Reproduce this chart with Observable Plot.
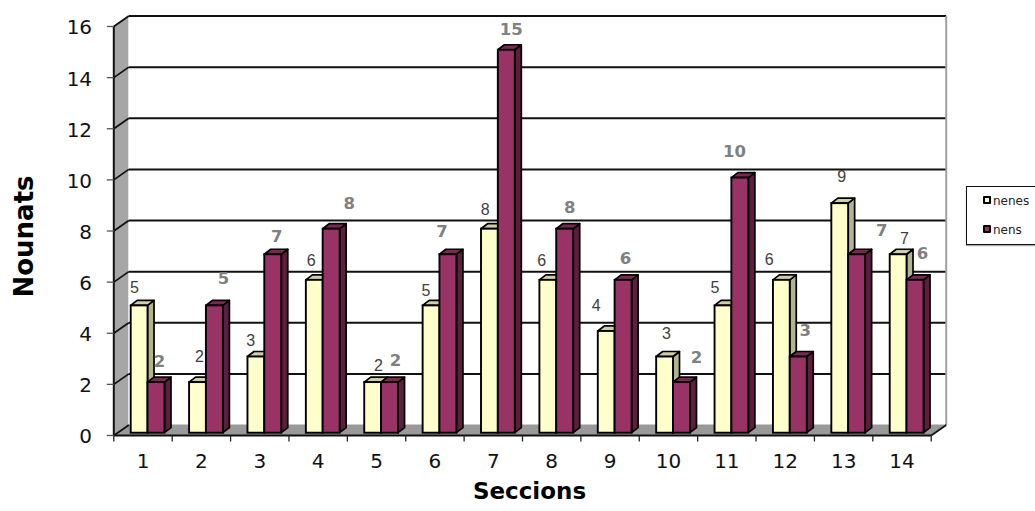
<!DOCTYPE html>
<html><head><meta charset="utf-8">
<script src="https://cdn.jsdelivr.net/npm/d3@7"></script>
<script src="https://cdn.jsdelivr.net/npm/@observablehq/plot@0.6"></script>
<style>
html,body{margin:0;padding:0;background:#fff;}
#wrap{position:relative;width:1035px;height:511px;overflow:hidden;}
#legend{position:absolute;left:966px;top:186px;width:80px;height:57px;border:1px solid #111;box-shadow:0 1px 1px #aaa;background:#fff;font:12px "DejaVu Sans",sans-serif;color:#222;}
#legend div{position:absolute;left:16px;white-space:nowrap;line-height:14px;}
#legend i{display:inline-block;width:4px;height:4px;border:2px solid #000;border-radius:1px;margin-right:2px;vertical-align:1px;}
</style></head><body><div id="wrap"></div>
<script>
const categories = [1,2,3,4,5,6,7,8,9,10,11,12,13,14];
const nenes = [5,2,3,6,2,5,8,6,4,3,5,6,9,7];
const nens  = [2,5,7,8,2,7,15,8,6,2,10,3,7,6];
const yTicks = [0,2,4,6,8,10,12,14,16];

// label nudges in pixels, from category centre / value height
const nenesNudgeX = [-8.5,-2,-9,-7,2,-9,-8,-10,-14,-2,-12,-16,-2,2.5];
const nenesNudgeY = [-20,-28,-18,-21,-19,-17,-21,-21,-27,-25,-20,-22,-29,-18];
const nensNudgeX  = [16.5,22,17,31,19,7,18,18,15.4,28,7.6,20,38,20.5];
const nensNudgeY  = [-23,-29,-20,-27.5,-24,-25,-22.6,-23.5,-23.6,-27,-28,-28,-26,-28.6];

const W=1035,H=511,L=113.3,R=930.7,T=26,B=435;
const pxX=(R-L)/14, pxY=(B-T)/16;
const wallX=15/pxX, wallY=10.5/pxY;       // depth of the chart box, in data units
const barX=6.5/pxX, barY=5/pxY;           // depth of a bar
const xMin=.5,xMax=14.5,yMax=16;
const base=.09, lift=.07;
const yellow={front:"#ffffcc",top:"#cfcfa6",side:"#b3b38f"};
const purple={front:"#993366",top:"#7a2952",side:"#5c1f3d"};

const sideFaces=(vals,a,b)=>vals.flatMap((v,i)=>{const c=categories[i];return [
 {k:i,x1:c+b,y1:base,x2:c+b+barX,y2:base+barY},
 {k:i,x1:c+b,y1:v+lift,x2:c+b+barX,y2:v+lift+barY}];});
const topFaces=(vals,a,b)=>vals.flatMap((v,i)=>{const c=categories[i];return [
 {k:i,x1:c+a,y1:v+lift,x2:c+a+barX,y2:v+lift+barY},
 {k:i,x1:c+b,y1:v+lift,x2:c+b+barX,y2:v+lift+barY}];});
const fronts=(vals,a,b)=>vals.map((v,i)=>({x1:categories[i]+a,x2:categories[i]+b,y1:base,y2:v+lift}));
const barMarks=(vals,a,b,col)=>[
 Plot.area(sideFaces(vals,a,b),{x1:"x1",y1:"y1",x2:"x2",y2:"y2",z:"k",fill:col.side,stroke:"#000",strokeWidth:1.7}),
 Plot.area(topFaces(vals,a,b),{x1:"x1",y1:"y1",x2:"x2",y2:"y2",z:"k",fill:col.top,stroke:"#000",strokeWidth:1.7}),
 Plot.rect(fronts(vals,a,b),{x1:"x1",x2:"x2",y1:"y1",y2:"y2",fill:col.front,stroke:"#000",strokeWidth:1.9})
];
const labels=(vals,nx,ny)=>vals.map((v,i)=>({x:categories[i]+nx[i]/pxX,y:v-ny[i]/pxY,t:String(v)}));

const boundaries=[xMin,...categories.map(c=>c+.5)];
const sideWall=[{x1:xMin,y1:0,x2:xMin+wallX,y2:wallY},{x1:xMin,y1:yMax,x2:xMin+wallX,y2:yMax+wallY}];
const floor=[{x1:xMin,y1:0,x2:xMin+wallX,y2:wallY},{x1:xMax,y1:0,x2:xMax+wallX,y2:wallY}];

const plot=Plot.plot({
 width:W,height:H,marginLeft:L,marginRight:W-R,marginTop:T,marginBottom:H-B,
 style:{fontFamily:"'DejaVu Sans',sans-serif",background:"transparent",overflow:"visible"},
 x:{type:"linear",domain:[xMin,xMax],axis:null},
 y:{domain:[0,yMax],axis:null},
 marks:[
  Plot.area(sideWall,{x1:"x1",y1:"y1",x2:"x2",y2:"y2",fill:"#a6a6a6"}),
  Plot.area(floor,{x1:"x1",y1:"y1",x2:"x2",y2:"y2",fill:"#999999"}),
  Plot.link(yTicks.filter(d=>d>0),{x1:xMin+wallX,x2:xMax+wallX,y1:d=>d+wallY,y2:d=>d+wallY,stroke:"#111",strokeWidth:2}),
  Plot.link(yTicks,{x1:xMin,x2:xMin+wallX,y1:d=>d,y2:d=>d+wallY,stroke:"#111",strokeWidth:1.8}),
  Plot.link([0],{x1:xMax+wallX,x2:xMax+wallX,y1:wallY,y2:yMax+wallY,stroke:"#a0a0a0",strokeWidth:2}),
  Plot.link([0],{x1:xMax,x2:xMax+wallX,y1:0,y2:wallY,stroke:"#111",strokeWidth:1.8}),
  Plot.link([0],{x1:xMin,x2:xMin,y1:0,y2:yMax,stroke:"#111",strokeWidth:2}),
  Plot.link([0],{x1:xMin,x2:xMax,y1:0,y2:0,stroke:"#111",strokeWidth:2}),
  Plot.link(boundaries,{x1:d=>d,x2:d=>d,y1:0,y2:-6/pxY,stroke:"#222",strokeWidth:1.3}),
  Plot.link(yTicks,{x1:xMin-7/pxX,x2:xMin,y1:d=>d,y2:d=>d,stroke:"#555",strokeWidth:1.3}),
  ...barMarks(nenes,-.202,.086,yellow),
  ...barMarks(nens,.086,.377,purple),
  Plot.axisY({ticks:yTicks,tickSize:0,tickPadding:21.7,dy:1.5,fontSize:20,label:null,color:"#111"}),
  Plot.axisX({ticks:categories,tickSize:0,tickPadding:18.5,fontSize:20,label:null,tickFormat:d=>String(d),color:"#111"}),
  Plot.text(labels(nenes,nenesNudgeX,nenesNudgeY),{x:"x",y:"y",text:"t",fontSize:16,fontFamily:"'Liberation Sans',sans-serif",fill:"#404040"}),
  Plot.text(labels(nens,nensNudgeX,nensNudgeY),{x:"x",y:"y",text:"t",fontSize:16.5,fontWeight:"bold",fill:"#808080"}),
  Plot.text(["Nounats"],{frameAnchor:"left",textAnchor:"middle",rotate:-90,dx:-89,dy:5.5,fontSize:26,fontWeight:"bold",fill:"#000"}),
  Plot.text(["Seccions"],{frameAnchor:"bottom",dx:7,dy:63.5,fontSize:23,fontWeight:"bold",fill:"#000"})
 ]
});
const wrap=document.getElementById("wrap");
wrap.appendChild(plot);
const lg=document.createElement("div");lg.id="legend";
[["nenes",yellow.front,7],["nens",purple.front,36]].forEach(([n,c,t])=>{
 const d=document.createElement("div");d.style.top=t+"px";
 const s=document.createElement("i");s.style.background=c;d.appendChild(s);
 d.appendChild(document.createTextNode(n));lg.appendChild(d);});
wrap.appendChild(lg);
</script></body></html>
